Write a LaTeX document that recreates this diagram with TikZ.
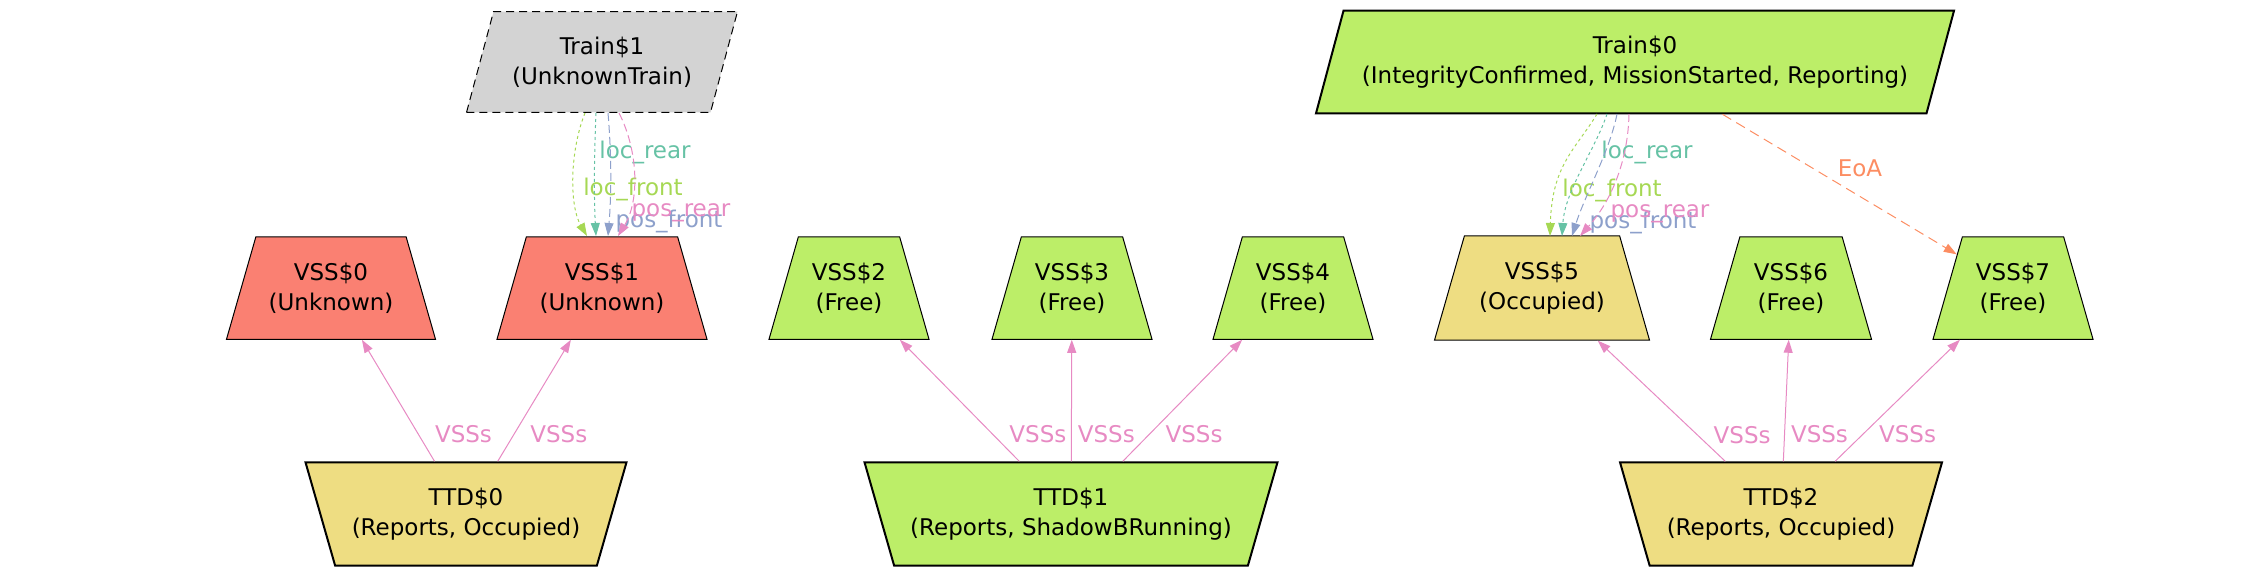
\documentclass[tikz,border=0pt]{standalone}
\usepackage{fontspec}
\setmainfont{DejaVu Sans}
\usetikzlibrary{shapes.geometric,arrows.meta,calc}

\definecolor{olivegreen}{HTML}{BCEE68}
\definecolor{salmonred}{HTML}{FA8072}
\definecolor{goldlight}{HTML}{EEDD82}
\definecolor{greylight}{HTML}{D3D3D3}
\definecolor{setteal}{HTML}{66C2A5}
\definecolor{setorange}{HTML}{FC8D62}
\definecolor{setblue}{HTML}{8DA0CB}
\definecolor{setpink}{HTML}{E78AC3}
\definecolor{setgreen}{HTML}{A6D854}

\begin{document}
\begin{tikzpicture}[x=0.5pt,y=-0.5pt,
  every node/.style={font=\fontsize{11.5}{15}\selectfont, align=center},
  train/.style={draw, trapezium, trapezium left angle=75, trapezium right angle=105,
    trapezium stretches body, inner xsep=0pt, inner ysep=12.6pt},
  vss/.style={draw, trapezium, trapezium angle=74, trapezium stretches body,
    inner xsep=0pt, inner ysep=13pt, line width=0.5pt},
  ttd/.style={draw, trapezium, trapezium angle=106, trapezium stretches body,
    inner xsep=0pt, inner ysep=12.8pt, line width=1pt},
  arr/.style={-{Triangle[length=6.5pt,width=4.5pt]}, line width=0.5pt},
  lbl/.style={inner sep=0pt},
  vssedge/.style={arr, setpink},
  vsslbl/.style={lbl, text=setpink, pos=0.22, anchor=west, xshift=8pt},
  dots/.style={dash pattern=on 1.5pt off 1.5pt},
  dashes/.style={dash pattern=on 4pt off 2pt},
]
  \useasboundingbox (0,0) rectangle (2258,575);

  % trains
  \node[train, dash pattern=on 4pt off 2.5pt, line width=0.5pt, fill=greylight, minimum width=135.5pt]
    (T1) at (602,62) {Train\$1\\(UnknownTrain)};
  \node[train, line width=1pt, fill=olivegreen, minimum width=319pt]
    (T0) at (1635,62) {Train\$0\\(IntegrityConfirmed, MissionStarted, Reporting)};

  % virtual sub-sections
  \node[vss, fill=salmonred, minimum width=104.5pt] (V0) at (331,288) {VSS\$0\\(Unknown)};
  \node[vss, fill=salmonred, minimum width=105pt] (V1) at (602,288) {VSS\$1\\(Unknown)};
  \node[vss, fill=olivegreen, minimum width=80pt] (V2) at (849,288) {VSS\$2\\(Free)};
  \node[vss, fill=olivegreen, minimum width=80pt] (V3) at (1072,288) {VSS\$3\\(Free)};
  \node[vss, fill=olivegreen, minimum width=80pt] (V4) at (1293,288) {VSS\$4\\(Free)};
  \node[vss, fill=goldlight, minimum width=107.5pt] (V5) at (1542,288) {VSS\$5\\(Occupied)};
  \node[vss, fill=olivegreen, minimum width=80.5pt] (V6) at (1791,288) {VSS\$6\\(Free)};
  \node[vss, fill=olivegreen, minimum width=80pt] (V7) at (2013,288) {VSS\$7\\(Free)};

  % train detection sections
  \node[ttd, fill=goldlight, minimum width=160.5pt] (D0) at (466,514) {TTD\$0\\(Reports, Occupied)};
  \node[ttd, fill=olivegreen, minimum width=206.5pt] (D1) at (1071,514) {TTD\$1\\(Reports, ShadowBRunning)};
  \node[ttd, fill=goldlight, minimum width=161pt] (D2) at (1781,514) {TTD\$2\\(Reports, Occupied)};

  % TTD -> VSS
  \draw[vssedge] (D0) -- (V0) node[vsslbl] {VSSs};
  \draw[vssedge] (D0) -- (V1) node[vsslbl] {VSSs};
  \draw[vssedge] (D1) -- (V2) node[vsslbl] {VSSs};
  \draw[vssedge] (D1) -- (V3) node[vsslbl, xshift=-5pt] {VSSs};
  \draw[vssedge] (D1) -- (V4) node[vsslbl] {VSSs};
  \draw[vssedge] (D2) -- (V5) node[vsslbl] {VSSs};
  \draw[vssedge] (D2) -- (V6) node[vsslbl, xshift=-5pt] {VSSs};
  \draw[vssedge] (D2) -- (V7) node[vsslbl] {VSSs};

  % Train$1 positions
  \draw[arr, setgreen, dots] ($(T1.center)+(-17,51)$) .. controls ($(T1.center)+(-32,88)$)
    and ($(V1.center)+(-33,-83)$) .. ($(V1.center)+(-15,-52)$)
    node[lbl, text=setgreen] at (633,189) {loc\_front};
  \draw[arr, setteal, dots] ($(T1.center)+(-6,51)$) .. controls ($(T1.center)+(-8,98)$)
    and ($(V1.center)+(-8,-88)$) .. ($(V1.center)+(-6,-52)$)
    node[lbl, text=setteal] at (645,152) {loc\_rear};
  \draw[arr, setblue, dashes] ($(T1.center)+(6,51)$) .. controls ($(T1.center)+(10,98)$)
    and ($(V1.center)+(9,-88)$) .. ($(V1.center)+(6,-52)$)
    node[lbl, text=setblue] at (669,221) {pos\_front};
  \draw[arr, setpink, dashes] ($(T1.center)+(17,51)$) .. controls ($(T1.center)+(36,88)$)
    and ($(V1.center)+(38,-88)$) .. ($(V1.center)+(16,-52)$)
    node[lbl, text=setpink] at (681,213) {pos\_rear};

  % Train$0 positions
  \draw[arr, setgreen, dots] ($(T0.center)+(-38,52)$) .. controls ($(T0.center)+(-60,88)$)
    and ($(V5.center)+(10,-123)$) .. ($(V5.center)+(8,-52)$)
    node[lbl, text=setgreen] at (1612,190) {loc\_front};
  \draw[arr, setteal, dots] ($(T0.center)+(-28,52)$) .. controls ($(T0.center)+(-40,88)$)
    and ($(V5.center)+(23,-98)$) .. ($(V5.center)+(20,-52)$)
    node[lbl, text=setteal] at (1647,152) {loc\_rear};
  \draw[arr, setblue, dashes] ($(T0.center)+(-18,52)$) .. controls ($(T0.center)+(-25,88)$)
    and ($(V5.center)+(43,-93)$) .. ($(V5.center)+(30,-52)$)
    node[lbl, text=setblue] at (1643,222) {pos\_front};
  \draw[arr, setpink, dashes] ($(T0.center)+(-6,52)$) .. controls ($(T0.center)+(-7,98)$)
    and ($(V5.center)+(70,-88)$) .. ($(V5.center)+(38,-52)$)
    node[lbl, text=setpink] at (1660,214) {pos\_rear};

  % end of authority
  \draw[arr, setorange, dash pattern=on 5pt off 3pt] (T0) -- (V7)
    node[lbl, text=setorange] at (1860,168) {EoA};
\end{tikzpicture}
\end{document}
